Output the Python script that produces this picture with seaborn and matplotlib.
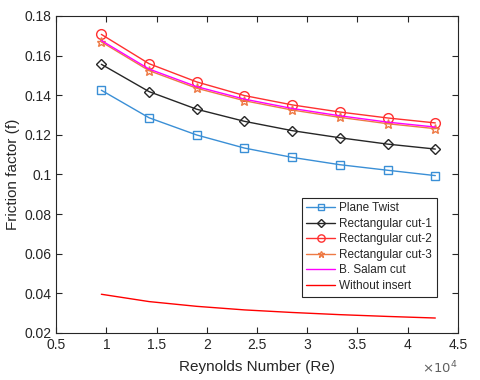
import matplotlib
matplotlib.use("Agg")
import matplotlib.pyplot as plt
from matplotlib.ticker import FuncFormatter, MultipleLocator
import pandas as pd
import seaborn as sns

sns.set_style("ticks")
plt.rcParams["font.family"] = ["Liberation Sans", "DejaVu Sans"]

# ------------------ Dados ------------------ #
reynolds = [0.95, 1.425, 1.9, 2.375, 2.85, 3.325, 3.8, 4.275]  # x 10^4

plane_twist = [0.1425, 0.1286, 0.1199, 0.1133, 0.1086, 0.1049, 0.1021, 0.0994]
rect_cut_1 = [0.1556, 0.1418, 0.1329, 0.1268, 0.1221, 0.1185, 0.1153, 0.1128]
rect_cut_2 = [0.1707, 0.1559, 0.1467, 0.1398, 0.1351, 0.1315, 0.1285, 0.1260]
rect_cut_3 = [0.1669, 0.1524, 0.1435, 0.1372, 0.1325, 0.1288, 0.1256, 0.1231]
salam_cut = [0.1676, 0.1532, 0.1443, 0.1380, 0.1333, 0.1296, 0.1264, 0.1239]
without_insert = [0.0395, 0.0358, 0.0334, 0.0316, 0.0303, 0.0292, 0.0283, 0.0275]

series = [
    ("Plane Twist", plane_twist, "#3A8FD6", "s", 5.5),
    ("Rectangular cut-1", rect_cut_1, "#262626", "D", 5),
    ("Rectangular cut-2", rect_cut_2, "#FF3030", "o", 7),
    ("Rectangular cut-3", rect_cut_3, "#EE7A45", "*", 6.5),
    ("B. Salam cut", salam_cut, "#FF00FF", None, 0),
    ("Without insert", without_insert, "#FF0000", None, 0),
]

# ------------------ Gráfico ------------------ #
fig = plt.figure(figsize=(4.8, 3.8), dpi=100)
ax = fig.add_axes([0.117, 0.124, 0.837, 0.834])

for nome, valores, cor, marcador, tam in series:
    df = pd.DataFrame({"Re": reynolds, "f": valores})
    sns.lineplot(data=df, x="Re", y="f", ax=ax, color=cor, lw=1,
                 marker=marcador, markersize=tam, markerfacecolor="none",
                 markeredgecolor=cor, markeredgewidth=1, label=nome)

ax.set_xlim(0.5, 4.5)
ax.set_ylim(0.02, 0.18)
ax.xaxis.set_major_locator(MultipleLocator(0.5))
ax.yaxis.set_major_locator(MultipleLocator(0.02))
fmt = FuncFormatter(lambda v, p: f"{v:g}")
ax.xaxis.set_major_formatter(fmt)
ax.yaxis.set_major_formatter(fmt)

ax.tick_params(direction="in", length=4, width=0.8, top=True, right=True,
               labelsize=10, labelcolor="#262626", color="#262626")
for s in ax.spines.values():
    s.set_color("#262626")
    s.set_linewidth(0.8)

ax.set_xlabel("Reynolds Number (Re)", fontsize=11, color="#262626", labelpad=6)
ax.set_ylabel("Friction factor (f)", fontsize=11, color="#262626", labelpad=3)
ax.text(1.0, -0.085, r"$\times 10^{4}$", transform=ax.transAxes, ha="right",
        va="top", fontsize=9.5, color="#606060")

leg = ax.legend(loc="lower right", bbox_to_anchor=(0.948, 0.114), fontsize=8.5,
                frameon=True, fancybox=False, framealpha=1, borderpad=0.4,
                borderaxespad=0, labelspacing=0.3, handlelength=2.4,
                handletextpad=0.4, markerscale=0.75)
leg.get_frame().set_edgecolor("#262626")
leg.get_frame().set_linewidth(0.8)
for txt in leg.get_texts():
    txt.set_color("#262626")

fig.savefig("out.png", dpi=100)
